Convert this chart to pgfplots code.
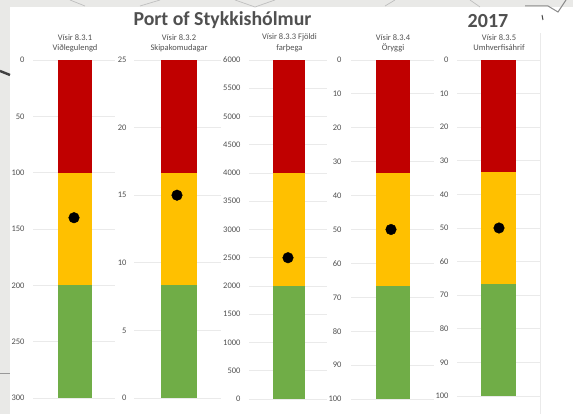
\documentclass[border=0pt]{standalone}
\usepackage{pgfplots}
\pgfplotsset{compat=1.18}
\usepackage{fontspec}
\setmainfont{Carlito}
\definecolor{barred}{HTML}{C00000}
\definecolor{baryel}{HTML}{FFC000}
\definecolor{bargrn}{HTML}{70AD47}
\definecolor{gridc}{HTML}{EAEAEA}
\definecolor{txt}{HTML}{505050}
\definecolor{bgc}{HTML}{E9E9E7}
\pgfplotsset{
  gauge/.style={
    scale only axis, anchor=north west,
    axis line style={draw=none},
    ybar stacked, bar width=34pt,
    ymajorgrids, major grid style={gridc,line width=0.8pt},
    major tick length=0pt, xtick=\empty,
    tick label style={font=\fontsize{8.5}{9}\selectfont,text=txt},
    /pgf/number format/assume math mode=true,
    /pgf/number format/set thousands separator={},
    clip=false,
  },
  dot/.style={stack plots=false, only marks, mark=*, mark size=5.3pt,
    mark options={fill=black,draw=black}, sharp plot},
  r/.style={fill=barred,draw=none},
  y/.style={fill=baryel,draw=none},
  g/.style={fill=bargrn,draw=none},
}
\begin{document}
\begin{tikzpicture}[x=1pt,y=1pt]
\path[use as bounding box] (0,0) rectangle (573,414);
\fill[white] (0,0) rectangle (573,414);
\fill[bgc] (0,407) rectangle (573,414);
\fill[bgc] (0,0) rectangle (10,414);
\draw[gridc,line width=0.7pt] (540,0) -- (540,381);
\draw[black!75,line width=2.4pt] (0,343) -- (10,339);
\draw[black!40,line width=0.8pt] (0,41) -- (10,41);
\draw[black!45,line width=1pt] (525,408) -- (548,408) -- (558,402) -- (566,414);
\draw[black!25,line width=0.7pt] (70,414) -- (85,408) (140,408) -- (160,414) (235,414) -- (255,407) -- (275,414) (385,408) -- (395,414) (470,414) -- (480,407);
\draw[black!70,line width=1pt] (542,399) -- (543,394);
% Axis 1
\begin{axis}[gauge, at={(33pt,354pt)}, width=82pt, height=338pt,
  xmin=33, xmax=115, ymin=0, ymax=300, y dir=reverse, ytick={0,50,...,300},
  yticklabel style={xshift=-5pt}]
\addplot[r] coordinates {(75,100)};
\addplot[y] coordinates {(75,100)};
\addplot[g] coordinates {(75,100)};
\addplot[dot] coordinates {(74,140)};
\end{axis}
% Axis 2
\begin{axis}[gauge, at={(134pt,354pt)}, width=87pt, height=338pt, bar width=36pt,
  xmin=134, xmax=221, ymin=0, ymax=25, ytick={0,5,...,25},
  yticklabel style={xshift=-4pt}]
\addplot[g] coordinates {(179,8.33)};
\addplot[y] coordinates {(179,8.33)};
\addplot[r] coordinates {(179,8.34)};
\addplot[dot] coordinates {(177,15)};
\end{axis}
% Axis 3
\begin{axis}[gauge, at={(249pt,354pt)}, width=78pt, height=339pt, bar width=32pt,
  xmin=249, xmax=327, ymin=0, ymax=6000, ytick={0,500,...,6000},
  yticklabel style={xshift=-5pt}]
\addplot[g] coordinates {(289,2000)};
\addplot[y] coordinates {(289,2000)};
\addplot[r] coordinates {(289,2000)};
\addplot[dot] coordinates {(288,2500)};
\end{axis}
% Axis 4
\begin{axis}[gauge, at={(351pt,354pt)}, width=83pt, height=339pt,
  xmin=351, xmax=434, ymin=0, ymax=100, y dir=reverse, ytick={0,10,...,100},
  yticklabel style={xshift=-6pt}]
\addplot[r] coordinates {(393,33.3)};
\addplot[y] coordinates {(393,33.3)};
\addplot[g] coordinates {(393,33.4)};
\addplot[dot] coordinates {(391,50)};
\end{axis}
% Axis 5
\begin{axis}[gauge, at={(457pt,354pt)}, width=83pt, height=336pt, bar width=35pt,
  xmin=457, xmax=540, ymin=0, ymax=100, y dir=reverse, ytick={0,10,...,100},
  yticklabel style={xshift=-5pt}]
\addplot[r] coordinates {(498.5,33.3)};
\addplot[y] coordinates {(498.5,33.3)};
\addplot[g] coordinates {(498.5,33.4)};
\addplot[dot] coordinates {(499,50)};
\end{axis}
\node[font=\fontsize{19.8}{20}\selectfont\bfseries,text=txt] at (222.5,393.5) {Port of Stykkishólmur};
\node[font=\fontsize{20}{20}\selectfont\bfseries,text=txt] at (488,393) {2017};
\foreach \xx/\a/\b in {75/Vísir 8.3.1/Viðlegulengd,179/Vísir 8.3.2/Skipakomudagar,289.5/Vísir 8.3.3 Fjöldi/farþega,393/Vísir 8.3.4/Öryggi,499/Vísir 8.3.5/Umhverfisáhrif}{
  \node[font=\fontsize{8.5}{9}\selectfont,text=txt] at (\xx,376.5) {\a};
  \node[font=\fontsize{8.5}{9}\selectfont,text=txt] at (\xx,366) {\b};
}
\end{tikzpicture}
\end{document}
